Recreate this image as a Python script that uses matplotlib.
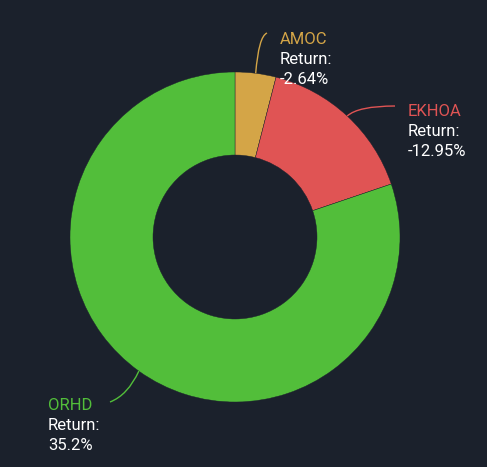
import matplotlib
matplotlib.use("Agg")
import matplotlib.pyplot as plt
import numpy as np
from matplotlib.path import Path
from matplotlib.patches import PathPatch

names = ["AMOC", "EKHOA", "ORHD"]
shares = [4.0, 15.8, 80.2]
returns = ["-2.64%", "-12.95%", "35.2%"]
colors = ["#D4A547", "#E05454", "#52BE3A"]

BG = "#1B212C"
W, H = 487, 467
fig = plt.figure(figsize=(W / 100, H / 100), dpi=100, facecolor=BG)
ax = fig.add_axes([0, 0, 1, 1])
ax.set_facecolor(BG)
ax.set_xlim(0, W)
ax.set_ylim(0, H)
ax.set_aspect("equal")
ax.axis("off")

cx, cy, R = 235, H - 237, 165
wedges, _ = ax.pie(shares, colors=colors, startangle=90, counterclock=False,
                   center=(cx, cy), radius=R,
                   wedgeprops=dict(width=83, edgecolor=BG, linewidth=0.3))
ax.set_xlim(0, W)
ax.set_ylim(0, H)

# label layout (pixel coordinates, y from top)
label_pos = [(280, 39), (408, 111), (48, 405)]
ctrl_off = [(3, -37), (11, -10), (-11, 24)]
end_pts = [(267, 33), (395, 106), (110, 402)]

FS = 12
for w, name, ret, col, (lx, ly), (ox, oy), (ex, ey) in zip(
        wedges, names, returns, colors, label_pos, ctrl_off, end_pts):
    ang = np.deg2rad((w.theta1 + w.theta2) / 2)
    sx, sy = cx + R * np.cos(ang), cy + R * np.sin(ang)
    p = Path([(sx, sy), (sx + ox, sy - oy), (ex, H - ey)],
             [Path.MOVETO, Path.CURVE3, Path.CURVE3])
    ax.add_patch(PathPatch(p, facecolor="none", edgecolor=col, lw=1.0))
    ax.text(lx, H - ly, name, color=col, fontsize=FS, family="Roboto",
            ha="left", va="center")
    ax.text(lx, H - ly - 20, "Return:", color="white", fontsize=FS,
            family="Roboto", ha="left", va="center")
    ax.text(lx, H - ly - 40, ret, color="white", fontsize=FS,
            family="Roboto", ha="left", va="center")

fig.savefig("out.png", dpi=100, facecolor=BG)
